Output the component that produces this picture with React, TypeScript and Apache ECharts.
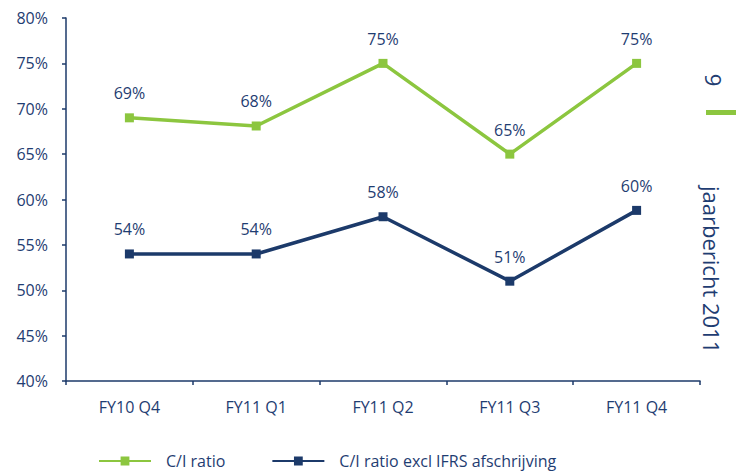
import React, { useEffect, useRef } from "react";
import * as echarts from "echarts";

const categories = ["FY10 Q4", "FY11 Q1", "FY11 Q2", "FY11 Q3", "FY11 Q4"];
const ciRatio = [69, 68.1, 75, 65, 75];
const ciRatioLabels = ["69%", "68%", "75%", "65%", "75%"];
const ciExcl = [54, 54, 58.1, 51, 58.8];
const ciExclLabels = ["54%", "54%", "58%", "51%", "60%"];
const seriesNames = ["C/I ratio", "C/I ratio excl IFRS afschrijving"];

const GREEN = "#8cc63f";
const NAVY = "#1c3a6a";
const TEXT = "#1f3d72";
const FONT = "'Open Sans'";

export default function App() {
  const ref = useRef<HTMLDivElement>(null);
  useEffect(() => {
    if (!ref.current) return;
    const chart = echarts.init(ref.current, undefined, { renderer: "svg" });
    const mkLabels = (labels: string[]) => ({
      show: true,
      position: "top",
      distance: 12,
      color: TEXT,
      fontSize: 16,
      fontFamily: FONT,
      formatter: (p: any) => labels[p.dataIndex],
    });
    chart.setOption({
      animation: false,
      textStyle: { fontFamily: FONT },
      grid: { left: 66, right: 36, top: 18, bottom: 91, containLabel: false },
      legend: {
        top: 452,
        left: 98,
        padding: 0,
        itemWidth: 52,
        itemHeight: 11,
        itemGap: 46,
        textStyle: { color: TEXT, fontSize: 16, lineHeight: 18, fontFamily: FONT, padding: [0, 0, 0, 10] },
        data: seriesNames,
      },
      xAxis: {
        type: "category",
        data: categories,
        boundaryGap: true,
        axisLine: { lineStyle: { color: NAVY, width: 1.5 } },
        axisTick: { show: true, length: 4, inside: false, lineStyle: { color: NAVY, width: 1.5 } },
        axisLabel: { color: TEXT, fontSize: 16, fontFamily: FONT, margin: 18 },
        splitLine: { show: false },
      },
      yAxis: {
        type: "value",
        min: 40,
        max: 80,
        interval: 5,
        axisLine: { show: true, lineStyle: { color: NAVY, width: 1.5 } },
        axisTick: { show: true, length: 4, lineStyle: { color: NAVY, width: 1.5 } },
        axisLabel: { color: TEXT, fontSize: 16, fontFamily: FONT, margin: 18, formatter: "{value}%" },
        splitLine: { show: false },
      },
      series: [
        {
          name: seriesNames[0],
          type: "line",
          data: ciRatio,
          symbol: "rect",
          symbolSize: 9,
          itemStyle: { color: GREEN },
          lineStyle: { color: GREEN, width: 3.5 },
          label: mkLabels(ciRatioLabels),
        },
        {
          name: seriesNames[1],
          type: "line",
          data: ciExcl,
          symbol: "rect",
          symbolSize: 9,
          itemStyle: { color: NAVY },
          lineStyle: { color: NAVY, width: 3.5 },
          label: mkLabels(ciExclLabels),
        },
      ],
      graphic: [
        {
          type: "text",
          x: 714,
          y: 80,
          rotation: -Math.PI / 2,
          style: { text: "9", fill: TEXT, font: `22px ${FONT}`, align: "center", verticalAlign: "middle" },
        },
        { type: "rect", shape: { x: 706, y: 110, width: 30, height: 5 }, style: { fill: GREEN } },
        {
          type: "text",
          x: 712,
          y: 186,
          rotation: -Math.PI / 2,
          style: { text: "jaarbericht 2011", fill: TEXT, font: `22px ${FONT}`, align: "left", verticalAlign: "middle" },
        },
      ],
    });
    return () => chart.dispose();
  }, []);
  return <div ref={ref} style={{ width: 736, height: 472, position: "absolute", left: 0, top: 0 }} />;
}
